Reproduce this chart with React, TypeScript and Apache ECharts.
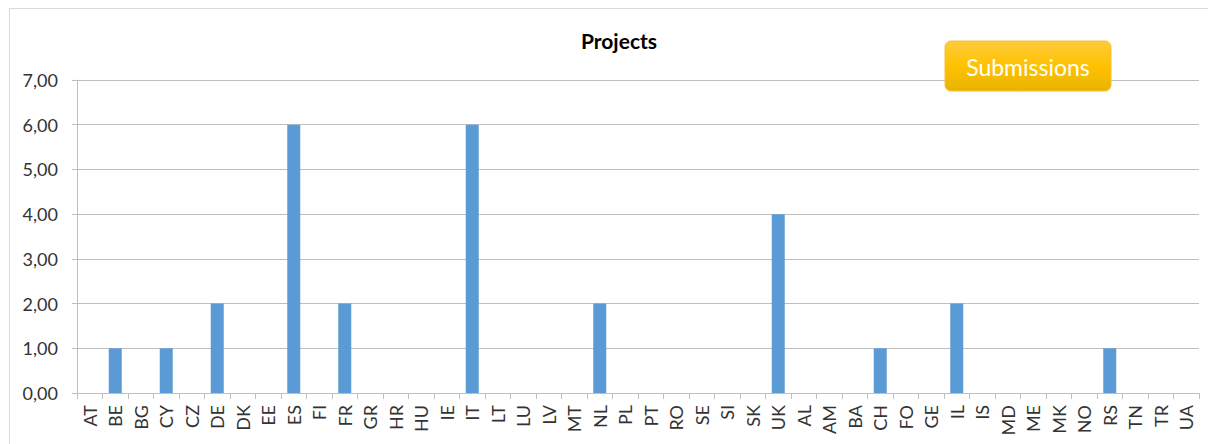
import React, { useEffect, useRef } from "react";
import * as echarts from "echarts";

const categories = ["AT","BE","BG","CY","CZ","DE","DK","EE","ES","FI","FR","GR","HR","HU","IE","IT","LT","LU","LV","MT","NL","PL","PT","RO","SE","SI","SK","UK","AL","AM","BA","CH","FO","GE","IL","IS","MD","ME","MK","NO","RS","TN","TR","UA"];
const projects = [0,1,0,1,0,2,0,0,6,0,2,0,0,0,0,6,0,0,0,0,2,0,0,0,0,0,0,4,0,0,0,1,0,0,2,0,0,0,0,0,1,0,0,0];
const chartTitle = "Projects";
const buttonLabel = "Submissions";

const FONT = "Lato, 'Open Sans', sans-serif";

export default function App() {
  const ref = useRef<HTMLDivElement>(null);
  useEffect(() => {
    const chart = echarts.init(ref.current!, null, { renderer: "svg" });
    chart.setOption({
      animation: false,
      backgroundColor: "#ffffff",
      title: {
        text: chartTitle,
        left: 614,
        top: 25,
        textAlign: "center",
        textStyle: { fontFamily: FONT, fontSize: 21, fontWeight: "bold", color: "#000" },
      },
      grid: { left: 77, right: 9, top: 80, bottom: 51, containLabel: false },
      xAxis: {
        type: "category",
        data: categories,
        axisLine: { lineStyle: { color: "#bfbfbf", width: 1 } },
        axisTick: { show: true, length: 6, lineStyle: { color: "#bfbfbf" } },
        axisLabel: {
          rotate: 90,
          interval: 0,
          margin: 12,
          fontFamily: FONT,
          fontSize: 18,
          color: "#333333",
        },
      },
      yAxis: {
        type: "value",
        min: 0,
        max: 7,
        interval: 1,
        axisLine: { show: true, lineStyle: { color: "#bfbfbf" } },
        axisTick: { show: true, length: 5, lineStyle: { color: "#bfbfbf" } },
        splitLine: { lineStyle: { color: "#bfbfbf", width: 1 } },
        axisLabel: {
          margin: 19,
          fontFamily: FONT,
          fontSize: 18,
          color: "#333333",
          formatter: (v: number) => v.toFixed(2).replace(".", ","),
        },
      },
      series: [
        {
          type: "bar",
          data: projects,
          barWidth: 13,
          itemStyle: { color: "#5b9bd5" },
        },
      ],
      graphic: [
        { type: "line", shape: { x1: 9, y1: 8.5, x2: 1208, y2: 8.5 }, style: { stroke: "#d9d9d9", lineWidth: 1 } },
        { type: "line", shape: { x1: 9.5, y1: 8, x2: 9.5, y2: 444 }, style: { stroke: "#d9d9d9", lineWidth: 1 } },
        {
          type: "rect",
          shape: { x: 945, y: 41, width: 166, height: 50, r: 6 },
          style: {
            fill: new echarts.graphic.LinearGradient(0, 0, 0, 1, [
              { offset: 0, color: "#ffcb3d" },
              { offset: 0.5, color: "#ffc200" },
              { offset: 1, color: "#e8b300" },
            ]),
            stroke: "#f5c030",
            lineWidth: 1,
          },
          z: 100,
        },
        {
          type: "text",
          x: 1028,
          y: 67,
          style: {
            text: buttonLabel,
            fill: "#ffffff",
            fontFamily: FONT,
            fontSize: 23,
            align: "center",
            verticalAlign: "middle",
          },
          z: 101,
        },
      ],
    });
    return () => chart.dispose();
  }, []);
  return (
    <div
      ref={ref}
      style={{ position: "fixed", left: 0, top: 0, width: 1208, height: 444 }}
    />
  );
}
